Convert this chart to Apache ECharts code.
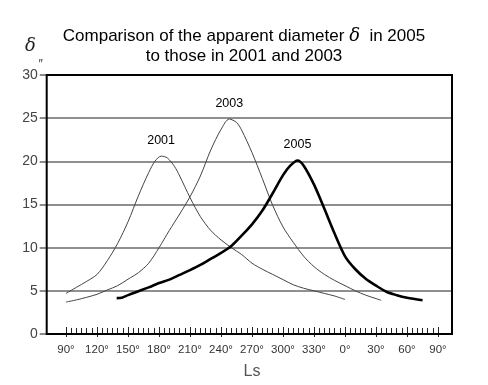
<!DOCTYPE html>
<html>
<head>
<meta charset="utf-8">
<style>html,body{margin:0;padding:0;background:#fff;}#c{width:488px;height:385px;}</style>
<script src="https://cdn.jsdelivr.net/npm/echarts@6/dist/echarts.min.js"></script>
</head>
<body>
<div id="c"></div>
<script>
// Ls (unwrapped degrees: 360+ means next Mars year) and apparent diameter (arcsec)
var ls2001 = [90,100,110,120,130,140,150,160,170,176,182,188,195,200,210,220,230,240,250,260,270,280,290,300,310,320,330,340,350,360];
var d2001  = [4.7,5.4,6.1,6.9,8.5,10.5,13.0,16.0,18.7,20.0,20.6,20.4,19.4,18.3,15.8,13.6,12.0,10.9,10.0,9.2,8.2,7.5,6.9,6.3,5.7,5.3,5.0,4.7,4.4,4.0];
var ls2003 = [90,100,110,120,130,140,150,160,170,180,190,200,210,220,230,240,248,255,260,270,280,290,300,310,320,330,340,350,360,370,380,390,395];
var d2003  = [3.7,3.95,4.25,4.6,5.1,5.6,6.35,7.1,8.2,10.0,12.0,13.9,15.9,18.3,21.3,23.7,24.9,24.5,23.6,21.0,18.0,14.9,12.4,10.6,9.0,7.8,6.9,6.2,5.6,5.0,4.5,4.1,3.9];
var ls2005 = [139,144,150,160,170,180,190,200,210,220,230,240,250,260,270,280,290,300,307,314,320,330,340,350,360,370,380,390,400,410,420,435];
var d2005  = [4.15,4.2,4.5,4.95,5.4,5.9,6.3,6.85,7.4,8.0,8.7,9.4,10.2,11.4,12.7,14.3,16.3,18.4,19.5,20.1,19.5,17.3,14.5,11.6,9.0,7.5,6.4,5.6,4.9,4.5,4.2,3.9];
var seriesNames = ['2001','2003','2005'];
var yTicks = [0,5,10,15,20,25,30];
var xTickStart = 90, xTickEnd = 450, xTickStep = 30;

function zip(a,b){ return a.map(function(v,i){ return [v,b[i]]; }); }
var FONT = '"Liberation Sans", Arial, sans-serif';

var chart = echarts.init(document.getElementById('c'), null, {renderer:'canvas'});

function lineSeries(name, data, color, width){
  return {
    type:'line', name:name, xAxisIndex:0, yAxisIndex:0,
    data:data, showSymbol:false, symbol:'none', smooth:0.3,
    lineStyle:{color:color, width:width}, silent:true, z:5,
    markPoint:{
      symbol:'circle', symbolSize:0, silent:true,
      data:[{type:'max'}],
      label:{show:true, position:'top', distance:9, formatter:name,
             fontSize:12.5, color:'#000', fontFamily:FONT}
    }
  };
}

var option = {
  animation:false,
  backgroundColor:'#fff',
  title:{
    left:'center', top:21,
    text:'Comparison of the apparent diameter {d|δ}  in 2005\nto those in 2001 and 2003',
    textStyle:{
      fontSize:17, fontWeight:'normal', color:'#000', fontFamily:FONT, lineHeight:20,
      rich:{d:{fontSize:18, fontStyle:'italic', fontFamily:'"DejaVu Serif", serif', color:'#000', lineHeight:20}}
    }
  },
  graphic:[
    {type:'text', left:25, top:37, style:{text:'δ', fontSize:18, fontStyle:'italic', fontFamily:'"DejaVu Serif", serif', fill:'#222'}},
    {type:'text', left:38, top:59, style:{text:'″', fontSize:12, fontStyle:'italic', fontFamily:FONT, fill:'#333'}}
  ],
  grid:[
    {left:46.7, top:75, width:405.3, height:259, show:true, borderColor:'#000', borderWidth:2, backgroundColor:'transparent', z:10},
    {left:66, top:75, width:372, height:259, show:false}
  ],
  xAxis:[
    {type:'value', gridIndex:0, min:71.3, max:463.5, show:false},
    {type:'value', gridIndex:1, min:xTickStart, max:xTickEnd, interval:xTickStep, position:'bottom',
     axisLine:{show:false},
     axisTick:{show:true, inside:true, length:5, lineStyle:{color:'#222', width:1}},
     minorTick:{show:true, splitNumber:6, length:4, lineStyle:{color:'#222', width:1}},
     splitLine:{show:false},
     axisLabel:{show:true, margin:12, fontSize:11.5, color:'#333', fontFamily:FONT,
       formatter:function(v){ return (v % 360) + '°'; }},
     name:'Ls', nameLocation:'middle', nameGap:32,
     nameTextStyle:{fontSize:16, color:'#555', fontFamily:FONT}
    },
    {type:'value', gridIndex:1, min:xTickStart, max:xTickEnd, interval:xTickStep, position:'bottom',
     axisLine:{show:false},
     axisTick:{show:true, inside:false, length:5, lineStyle:{color:'#222', width:1}},
     minorTick:{show:true, splitNumber:6, length:3, lineStyle:{color:'#222', width:1}},
     splitLine:{show:false}, axisLabel:{show:false}
    }
  ],
  yAxis:[
    {type:'value', gridIndex:0, min:yTicks[0], max:yTicks[yTicks.length-1], interval:5,
     axisLine:{show:false},
     axisTick:{show:true, length:7, lineStyle:{color:'#666', width:1.5}},
     splitLine:{show:true, lineStyle:{color:'#6a6a6a', width:1.5}},
     axisLabel:{margin:9, fontSize:14, color:'#444', fontFamily:FONT}
    },
    {type:'value', gridIndex:1, min:0, max:30, show:false}
  ],
  series:[
    lineSeries(seriesNames[0], zip(ls2001,d2001), '#444', 1),
    lineSeries(seriesNames[1], zip(ls2003,d2003), '#444', 1),
    lineSeries(seriesNames[2], zip(ls2005,d2005), '#000', 2.6)
  ]
};
chart.setOption(option);
</script>
</body>
</html>
